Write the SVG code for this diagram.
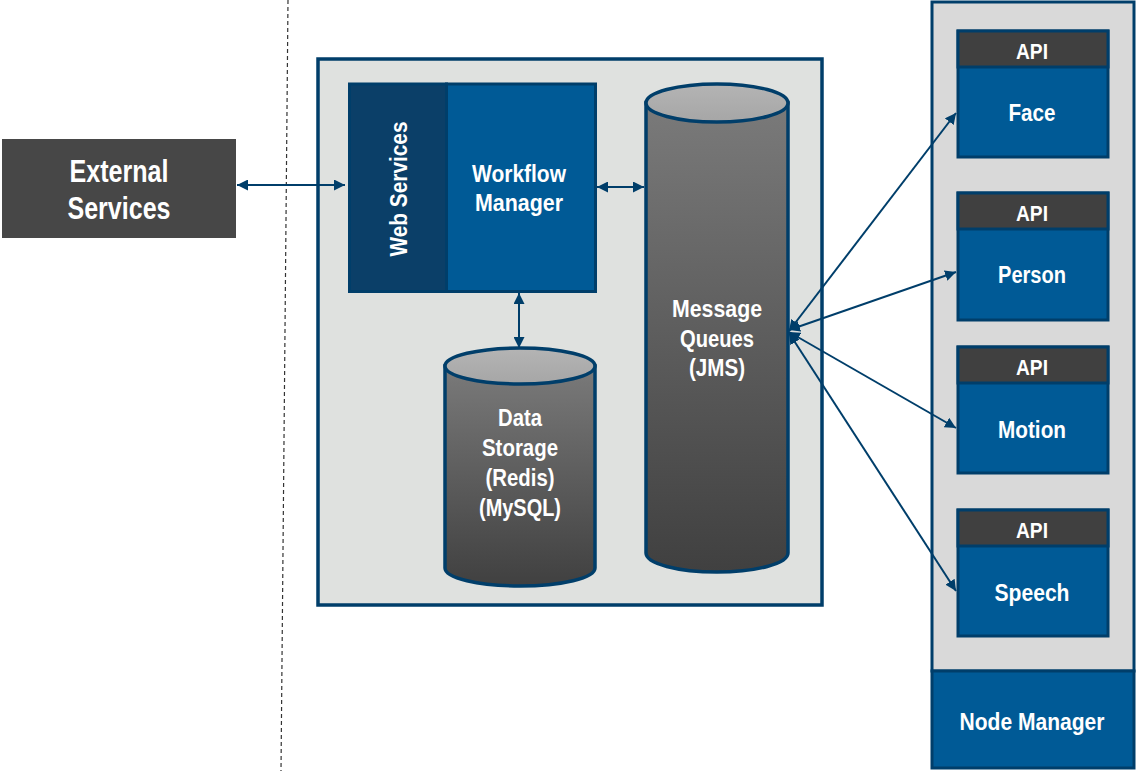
<svg xmlns="http://www.w3.org/2000/svg" width="1137" height="771" viewBox="0 0 1137 771">
<defs>
<style>
.t{font-family:"Liberation Sans",Arial,sans-serif;font-weight:bold;fill:#ffffff;text-anchor:middle;font-size:24px}
.big{font-size:31px}
.api{font-size:22.5px}
.blue{fill:#005a96;stroke:#003e6a;stroke-width:3}
.hdr{fill:#404040;stroke:#003e6a;stroke-width:3}
.conn{stroke:#003e6a;stroke-width:2;fill:none}
.cyl{stroke:#003e6a;stroke-width:3.5}
</style>
<marker id="ah" viewBox="0 0 10 10" refX="10" refY="5" markerWidth="11" markerHeight="11" markerUnits="userSpaceOnUse" orient="auto-start-reverse">
<path d="M0,0 L10,5 L0,10 z" fill="#003e6a"/>
</marker>
<linearGradient id="gq" x1="0" y1="0" x2="0" y2="1">
<stop offset="0" stop-color="#7a7a7a"/>
<stop offset="1" stop-color="#404040"/>
</linearGradient>
<linearGradient id="gtop" x1="0" y1="0" x2="0" y2="1">
<stop offset="0" stop-color="#b4b4b4"/>
<stop offset="1" stop-color="#a6a6a6"/>
</linearGradient>
</defs>
<rect width="1137" height="771" fill="#ffffff"/>
<line x1="288" y1="0" x2="281" y2="771" stroke="#333" stroke-width="1.2" stroke-dasharray="4,3"/>

<g id="external-services">
<rect x="2" y="139" width="234" height="99" fill="#474747"/>
<text class="t big" x="119" y="182" textLength="99" lengthAdjust="spacingAndGlyphs">External</text>
<text class="t big" x="119" y="219" textLength="103" lengthAdjust="spacingAndGlyphs">Services</text>
</g>

<g id="main-panel">
<rect x="318" y="59" width="504" height="546" fill="#dfe1df" stroke="#003e6a" stroke-width="3.5"/>
</g>

<g id="web-services-workflow">
<rect x="349.5" y="84" width="97" height="207.5" fill="#0b3f68" stroke="#003e6a" stroke-width="3"/>
<rect x="446.5" y="84" width="149" height="207.5" class="blue"/>
<text class="t" transform="translate(407,189) rotate(-90)" textLength="135" lengthAdjust="spacingAndGlyphs">Web Services</text>
<text class="t" x="519" y="182" textLength="94" lengthAdjust="spacingAndGlyphs">Workflow</text>
<text class="t" x="519" y="211" textLength="88" lengthAdjust="spacingAndGlyphs">Manager</text>
</g>

<g id="data-storage">
<path class="cyl" d="M445,366 L445,568 A75,18 0 0 0 595,568 L595,366 Z" fill="url(#gq)"/>
<ellipse class="cyl" cx="520" cy="366" rx="75" ry="18" fill="url(#gtop)"/>
<text class="t" x="520" y="426" textLength="44" lengthAdjust="spacingAndGlyphs">Data</text>
<text class="t" x="520" y="456" textLength="76" lengthAdjust="spacingAndGlyphs">Storage</text>
<text class="t" x="520" y="486" textLength="69" lengthAdjust="spacingAndGlyphs">(Redis)</text>
<text class="t" x="520" y="516" textLength="82" lengthAdjust="spacingAndGlyphs">(MySQL)</text>
</g>

<g id="message-queues">
<path class="cyl" d="M646,103 L646,553 A71,19 0 0 0 788,553 L788,103 Z" fill="url(#gq)"/>
<ellipse class="cyl" cx="717" cy="103" rx="71" ry="19" fill="url(#gtop)"/>
<text class="t" x="717" y="317" textLength="90" lengthAdjust="spacingAndGlyphs">Message</text>
<text class="t" x="717" y="347" textLength="74" lengthAdjust="spacingAndGlyphs">Queues</text>
<text class="t" x="717" y="376" textLength="56" lengthAdjust="spacingAndGlyphs">(JMS)</text>
</g>

<g id="node-panel">
<rect x="932" y="2" width="202" height="669" fill="#d9d9d9" stroke="#003e6a" stroke-width="3"/>
</g>

<g id="node-manager">
<rect x="932" y="671" width="202" height="97" class="blue"/>
<text class="t" x="1032" y="730" textLength="145" lengthAdjust="spacingAndGlyphs">Node Manager</text>
</g>

<g id="api-face">
<rect x="958" y="31" width="150" height="126" class="blue"/>
<rect x="958" y="31" width="150" height="36" class="hdr"/>
<text class="t api" x="1032" y="58.5" textLength="32" lengthAdjust="spacingAndGlyphs">API</text>
<text class="t" x="1032" y="120.5" textLength="47" lengthAdjust="spacingAndGlyphs">Face</text>
</g>

<g id="api-person">
<rect x="958" y="193" width="150" height="127" class="blue"/>
<rect x="958" y="193" width="150" height="36" class="hdr"/>
<text class="t api" x="1032" y="220.5" textLength="32" lengthAdjust="spacingAndGlyphs">API</text>
<text class="t" x="1032" y="283" textLength="68" lengthAdjust="spacingAndGlyphs">Person</text>
</g>

<g id="api-motion">
<rect x="958" y="347" width="150" height="126" class="blue"/>
<rect x="958" y="347" width="150" height="36" class="hdr"/>
<text class="t api" x="1032" y="375" textLength="32" lengthAdjust="spacingAndGlyphs">API</text>
<text class="t" x="1032" y="438" textLength="68" lengthAdjust="spacingAndGlyphs">Motion</text>
</g>

<g id="api-speech">
<rect x="958" y="510" width="150" height="126" class="blue"/>
<rect x="958" y="510" width="150" height="36" class="hdr"/>
<text class="t api" x="1032" y="538" textLength="32" lengthAdjust="spacingAndGlyphs">API</text>
<text class="t" x="1032" y="601" textLength="75" lengthAdjust="spacingAndGlyphs">Speech</text>
</g>

<g id="connectors">
<line class="conn" x1="237" y1="185" x2="345" y2="185" marker-start="url(#ah)" marker-end="url(#ah)"/>
<line class="conn" x1="597" y1="187" x2="644" y2="187" marker-start="url(#ah)" marker-end="url(#ah)"/>
<line class="conn" x1="519" y1="293" x2="519" y2="348" marker-start="url(#ah)" marker-end="url(#ah)"/>
<line class="conn" x1="789" y1="331" x2="956" y2="113" marker-start="url(#ah)" marker-end="url(#ah)"/>
<line class="conn" x1="789" y1="330" x2="956" y2="272" marker-start="url(#ah)" marker-end="url(#ah)"/>
<line class="conn" x1="789" y1="332" x2="956" y2="428" marker-start="url(#ah)" marker-end="url(#ah)"/>
<line class="conn" x1="789" y1="333" x2="956" y2="591" marker-start="url(#ah)" marker-end="url(#ah)"/>
</g>
</svg>
